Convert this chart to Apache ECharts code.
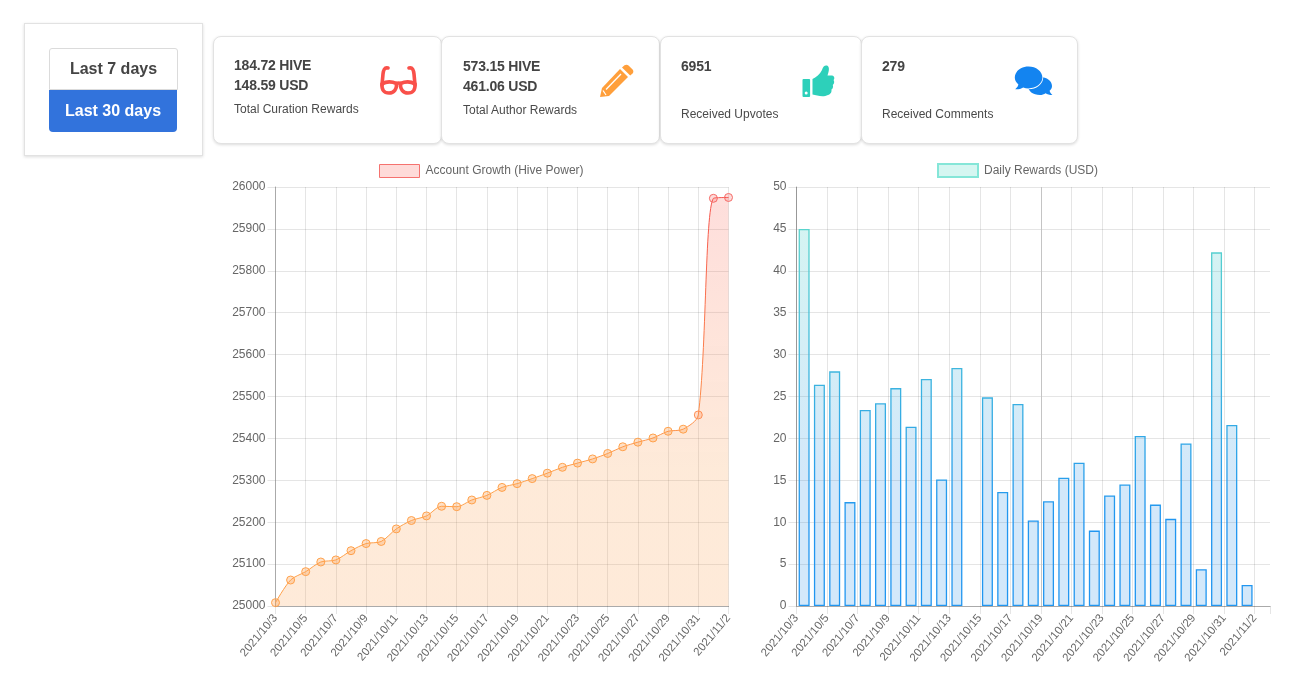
<!DOCTYPE html>
<html><head><meta charset="utf-8">
<script src="https://cdn.jsdelivr.net/npm/echarts@6/dist/echarts.min.js"></script>
<style>
html,body{margin:0;padding:0;background:#fff;width:1299px;height:688px;overflow:hidden;font-family:"Liberation Sans",Arial,sans-serif;color:#444}
#chart{position:absolute;left:0;top:0;width:1299px;height:688px}
.box{position:absolute;box-sizing:border-box;background:#fff;border:1px solid #e2e2e2;box-shadow:0 1px 3px rgba(0,0,0,.14)}
.card{border-radius:8px;top:36px;height:108px}
.t{position:absolute;white-space:nowrap}
.b{font-weight:bold;font-size:14px;line-height:20px;color:#444;letter-spacing:-.2px}
.c{font-size:12px;line-height:14px;color:#4a4a4a}
.btn{position:absolute;box-sizing:border-box;text-align:center;font-weight:bold;font-size:16px;line-height:40px}
svg{position:absolute;left:0;top:0}
</style></head><body>
<div id="chart"></div>
<div class="box" style="left:24px;top:23px;width:179px;height:133px"></div>
<div class="btn" style="left:49px;top:48px;width:129px;height:42px;background:#fff;border:1px solid #dbdbdb;border-radius:3px 3px 0 0;color:#444">Last 7 days</div>
<div class="btn" style="left:49px;top:90px;width:128px;height:42px;line-height:41px;background:#3273dc;border-radius:0 0 4px 4px;color:#fff">Last 30 days</div>

<div class="box card" style="left:213px;width:229px"></div>
<div class="box card" style="left:441px;width:219px"></div>
<div class="box card" style="left:660px;width:202px"></div>
<div class="box card" style="left:861px;width:217px"></div>

<div class="t b" style="left:234px;top:55px">184.72 HIVE</div>
<div class="t b" style="left:234px;top:75px">148.59 USD</div>
<div class="t c" style="left:234px;top:102px">Total Curation Rewards</div>
<div class="t b" style="left:463px;top:56px">573.15 HIVE</div>
<div class="t b" style="left:463px;top:76px">461.06 USD</div>
<div class="t c" style="left:463px;top:103px">Total Author Rewards</div>
<div class="t b" style="left:681px;top:56px">6951</div>
<div class="t c" style="left:681px;top:107px">Received Upvotes</div>
<div class="t b" style="left:882px;top:56px">279</div>
<div class="t c" style="left:882px;top:107px">Received Comments</div>

<svg width="1299" height="688" viewBox="0 0 1299 688">
  <g fill="none" stroke="#f9504a" stroke-width="3.6" stroke-linecap="round">
    <path d="M388 68 C384.5 67 383.5 70 383 74 L382 85"/>
    <path d="M409 68 C412.5 67 413.5 70 414 74 L415 85"/>
    <path d="M382 84 C386 81.5 392 81.5 396.5 83.5 C397 89 394 93 389 93 C384 93 381.5 90 382 84Z"/>
    <path d="M415 84 C411 81.5 405 81.5 400.5 83.5 C400 89 403 93 408 93 C413 93 415.5 90 415 84Z"/>
    <path d="M396.5 83.5 C398 82.8 399 82.8 400.5 83.5"/>
  </g>
  <g fill="#ff9f3b">
    <path d="M602 88 L620 69 L628 77 L609 96 L600 97 Z"/>
    <path d="M622 67.5 L624.5 65.3 C626 64.4 627.5 64.6 628.5 65.6 L632.6 69.6 C633.6 70.8 633.6 72.4 632.6 73.4 L630.2 75.6 Z"/>
  </g>
  <path d="M606 89.5 L621 74" stroke="#fff" stroke-width="1.3" fill="none"/>
  <path d="M603 90.5 L606 95" stroke="#fff" stroke-width="1.2" fill="none"/>
  <g fill="#2dd0ba">
    <rect x="802.5" y="79" width="7.6" height="18" rx="1"/>
    <path d="M812.5 79 C816 77.5 820 74 822 70 C823 66 825 65 827 65.5 C829.5 66.5 829.5 70 827.5 75.5 L832 75.5 C834.8 76 834.8 79 833.6 80 C834.8 82 834 84 832.8 85 C833.6 87 832.6 89 831.4 89.6 C832 92 830.5 94.5 828 95 C823 97.5 817 95.5 812.5 94.5 Z"/>
  </g>
  <circle cx="806.2" cy="93" r="1.5" fill="#fff"/>
  <path fill="#1384f0" d="M1040 77 C1047 77 1052 81 1052 86 C1052 88 1051 89.6 1049.6 90.8 C1050 92.4 1051 94 1052.4 95 C1049.5 95 1047.2 94.2 1045.6 93.2 C1044 94.4 1042 95 1040 95 C1033 95 1028 91 1028 86 C1028 81 1033 77 1040 77Z"/>
  <path fill="#1384f0" stroke="#fff" stroke-width="1.6" paint-order="stroke" d="M1028.5 66.6 C1036 66.6 1042.4 71.4 1042.4 77.6 C1042.4 83.6 1036 88.4 1028.5 88.4 C1026.6 88.4 1024.8 88 1023.2 87.4 C1021 88.8 1018.2 89.4 1015.2 89.2 C1016.8 87.8 1018 86.2 1018.4 84.4 C1016 82.6 1014.8 80.2 1014.8 77.6 C1014.8 71.4 1021 66.6 1028.5 66.6Z"/>
</svg>

<script>
var growthDays = ['2021/10/3','2021/10/4','2021/10/5','2021/10/6','2021/10/7','2021/10/8','2021/10/9','2021/10/10','2021/10/11','2021/10/12','2021/10/13','2021/10/14','2021/10/15','2021/10/16','2021/10/17','2021/10/18','2021/10/19','2021/10/20','2021/10/21','2021/10/22','2021/10/23','2021/10/24','2021/10/25','2021/10/26','2021/10/27','2021/10/28','2021/10/29','2021/10/30','2021/10/31','2021/11/1','2021/11/2'];
var growthValues = [25008,25062,25082,25105,25110,25132,25149,25154,25184,25204,25215,25238,25237,25253,25264,25283,25292,25304,25317,25331,25341,25351,25364,25380,25391,25401,25417,25422,25456,25973,25975];
var rewardValues = [45,26.4,28,12.4,23.4,24.2,26,21.4,27.1,15.1,28.4,null,24.9,13.6,24.1,10.2,12.5,15.3,17.1,9,13.2,14.5,20.3,12.1,10.4,19.4,4.4,42.2,21.6,2.5,null];
var rewardTickLabels = growthDays.concat(['']);

var G = echarts.graphic.LinearGradient;
function vgrad(y0,y1,c0,c1){return new G(0,y0,0,y1,[{offset:0,color:c0},{offset:1,color:c1}],true);}
var gridLine = {color:'rgba(0,0,0,0.1)',width:1};
var textStyle = {color:'#666',fontSize:12,fontFamily:'"Liberation Sans",Arial,sans-serif'};
function xLabel(){return Object.assign({},textStyle,{fontSize:11.5,rotate:50,interval:1,margin:10,hideOverlap:false,showMaxLabel:true});}
function yAxis(idx,min,max,interval){return {type:'value',gridIndex:idx,min:min,max:max,interval:interval,
  axisLine:{show:true,lineStyle:{color:'#aaa'}},axisTick:{show:true,length:8,lineStyle:gridLine},
  splitLine:{show:true,lineStyle:gridLine},axisLabel:Object.assign({margin:10,formatter:function(v){return String(v);}},textStyle)};}
var lineGrad = vgrad(187,480,'#f5524f','#ffa04a');
var growthPoints = growthValues.map(function(v){
  var hot = v>25900, warm = v>25440;
  return {value:v,itemStyle:{
    color: hot?'rgba(245,90,85,0.22)':warm?'rgba(255,135,75,0.28)':'rgba(255,160,74,0.32)',
    borderColor: hot?'#f56a66':warm?'#ff8f55':'#ffa04a',borderWidth:1}};
});
var option = {
  animation:false,
  legend:[
    {left:374,top:159,itemWidth:40,itemHeight:13,icon:'rect',data:['Account Growth (Hive Power)'],
     textStyle:Object.assign({},textStyle,{padding:[0,0,0,1]}),
     itemStyle:{color:'rgba(250,90,80,0.22)',borderColor:'#f5726f',borderWidth:1}},
    {left:932,top:158,itemWidth:40,itemHeight:13,icon:'rect',data:['Daily Rewards (USD)'],
     textStyle:Object.assign({},textStyle,{padding:[0,0,0,1]}),
     itemStyle:{color:'rgba(45,208,186,0.2)',borderColor:'#85e6d8',borderWidth:2}}
  ],
  grid:[
    {left:275.5,top:187,width:453,height:419},
    {left:796.5,top:187,width:473.5,height:419}
  ],
  xAxis:[
    {type:'category',gridIndex:0,data:growthDays,boundaryGap:false,axisLabel:xLabel(),
     axisLine:{show:true,lineStyle:{color:'#aaa'}},axisTick:{show:true,length:8,interval:1,lineStyle:gridLine},
     splitLine:{show:true,interval:1,lineStyle:gridLine}},
    {type:'category',gridIndex:1,data:growthDays,boundaryGap:true,show:false},
    {type:'category',gridIndex:1,data:rewardTickLabels,boundaryGap:false,position:'bottom',z:5,axisLabel:xLabel(),
     axisLine:{show:true,lineStyle:{color:'#aaa'}},axisTick:{show:true,length:8,interval:1,lineStyle:gridLine},
     splitLine:{show:true,interval:1,showMaxLine:false,lineStyle:gridLine}}
  ],
  yAxis:[yAxis(0,25000,26000,100),yAxis(1,0,50,5)],
  series:[
    {name:'Account Growth (Hive Power)',type:'line',xAxisIndex:0,yAxisIndex:0,data:growthPoints,
     smooth:0.3,symbol:'circle',symbolSize:8,showSymbol:true,
     lineStyle:{width:1,color:lineGrad},
     itemStyle:{color:'rgba(255,160,74,0.32)',borderColor:'#ffa04a',borderWidth:1},
     areaStyle:{color:vgrad(187,470,'rgba(250,90,80,0.2)','rgba(250,165,90,0.23)'),opacity:1}},
    {name:'Daily Rewards (USD)',type:'bar',xAxisIndex:1,yAxisIndex:1,data:rewardValues,barWidth:11,
     itemStyle:{color:vgrad(187,480,'rgba(45,208,186,0.2)','rgba(35,140,230,0.2)'),
       borderColor:vgrad(187,520,'#62ddc8','#2196f0'),borderWidth:1.3}},
    {type:'line',xAxisIndex:2,yAxisIndex:1,data:[],silent:true,symbol:'none',
     markLine:{silent:true,symbol:'none',label:{show:false},lineStyle:{color:'#c4c4c4',width:1,type:'solid'},
       data:[{xAxis:'2021/10/19'}]}}
  ]
};
var chart = echarts.init(document.getElementById('chart'),null,{renderer:'canvas'});
chart.setOption(option);
</script>
</body></html>
